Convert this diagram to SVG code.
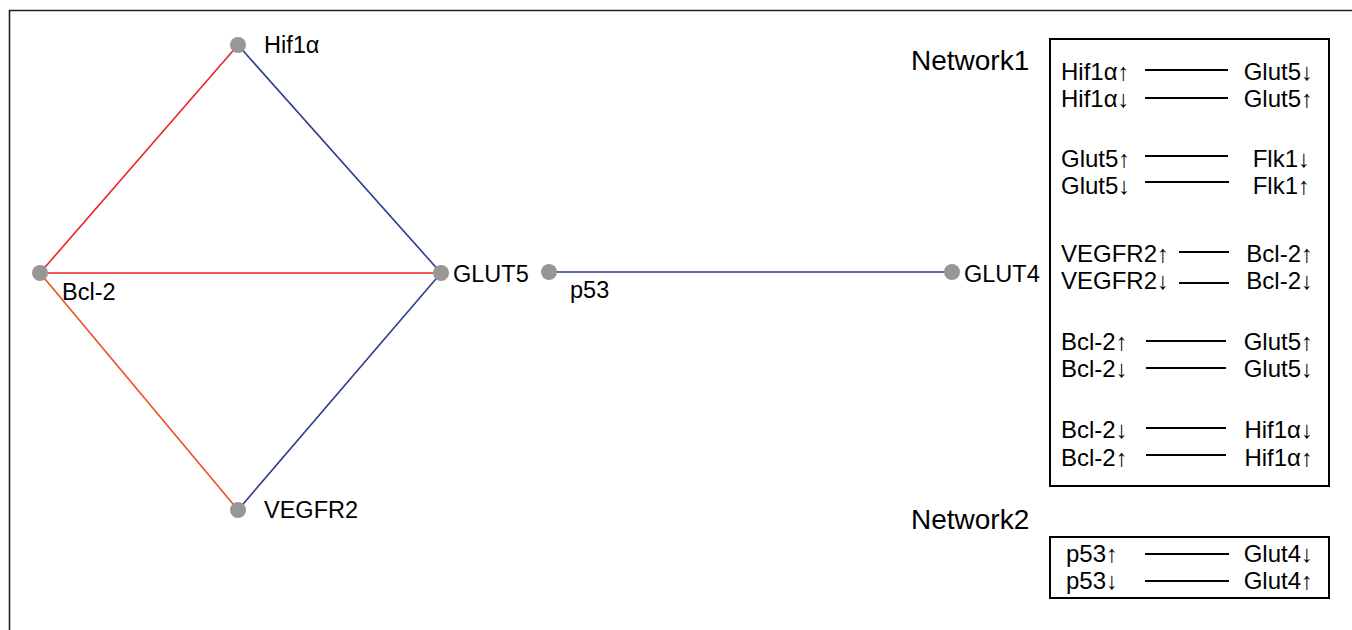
<svg xmlns="http://www.w3.org/2000/svg" width="1352" height="630" viewBox="0 0 1352 630">
<style>
text{font-family:"Liberation Sans",Arial,sans-serif;fill:#000}
.lbl{font-size:23.5px}
.net{font-size:28px}
.lg{font-size:24px}
.node{fill:#9b9696}
.e{stroke-width:1.6;fill:none}
.red{stroke:#ec2227}
.org{stroke:#f04e23}
.blue{stroke:#2b3c91}
.box{fill:none;stroke:#000;stroke-width:2}
.ll{stroke:#000;stroke-width:1.8}
.r{text-anchor:end}
</style>
<rect x="0" y="0" width="1352" height="630" fill="#fff"/>
<path d="M9.5,630 V10.5 H1352" fill="none" stroke="#231f20" stroke-width="1.6"/>
<g id="connectors">
<line class="e red" x1="238" y1="45" x2="40" y2="273"/>
<line class="e blue" x1="238" y1="45" x2="441" y2="273"/>
<line class="e red" x1="40" y1="273" x2="441" y2="273"/>
<line class="e org" x1="40" y1="273" x2="238" y2="510"/>
<line class="e blue" x1="238" y1="510" x2="441" y2="273"/>
<line class="e blue" x1="549" y1="272" x2="952" y2="272"/>
</g>
<g id="n-hif1a"><circle class="node" cx="238" cy="45" r="8"/><text class="lbl" x="264" y="53">Hif1α</text></g>
<g id="n-bcl2"><circle class="node" cx="40" cy="273" r="8"/><text class="lbl" x="62" y="300">Bcl-2</text></g>
<g id="n-glut5"><circle class="node" cx="441" cy="273" r="8"/><text class="lbl" x="453" y="282">GLUT5</text></g>
<g id="n-p53"><circle class="node" cx="549" cy="272" r="8"/><text class="lbl" x="570" y="298">p53</text></g>
<g id="n-glut4"><circle class="node" cx="952" cy="272" r="8"/><text class="lbl" x="964" y="282">GLUT4</text></g>
<g id="n-vegfr2"><circle class="node" cx="238" cy="510" r="8"/><text class="lbl" x="264" y="518">VEGFR2</text></g>
<g id="network1">
<text class="net" x="911" y="70">Network1</text>
<rect class="box" x="1050" y="39" width="279" height="447"/>
<text class="lg" x="1061" y="79.5">Hif1α↑</text><line class="ll" x1="1145" y1="70" x2="1228" y2="70"/><text class="lg r" x="1313" y="79.5">Glut5↓</text>
<text class="lg" x="1061" y="106.5">Hif1α↓</text><line class="ll" x1="1145" y1="98" x2="1228" y2="98"/><text class="lg r" x="1313" y="106.5">Glut5↑</text>
<text class="lg" x="1061" y="166.5">Glut5↑</text><line class="ll" x1="1145" y1="156" x2="1228" y2="156"/><text class="lg r" x="1310" y="166.5">Flk1↓</text>
<text class="lg" x="1061" y="193.5">Glut5↓</text><line class="ll" x1="1145" y1="182" x2="1229" y2="182"/><text class="lg r" x="1310" y="193.5">Flk1↑</text>
<text class="lg" x="1061" y="261.5">VEGFR2↑</text><line class="ll" x1="1179" y1="252" x2="1229" y2="252"/><text class="lg r" x="1313" y="261.5">Bcl-2↑</text>
<text class="lg" x="1061" y="288.5">VEGFR2↓</text><line class="ll" x1="1179" y1="283" x2="1229" y2="283"/><text class="lg r" x="1313" y="288.5">Bcl-2↓</text>
<text class="lg" x="1061" y="349.5">Bcl-2↑</text><line class="ll" x1="1146" y1="341" x2="1226" y2="341"/><text class="lg r" x="1313" y="349.5">Glut5↑</text>
<text class="lg" x="1061" y="376.5">Bcl-2↓</text><line class="ll" x1="1146" y1="368" x2="1226" y2="368"/><text class="lg r" x="1313" y="376.5">Glut5↓</text>
<text class="lg" x="1061" y="437.5">Bcl-2↓</text><line class="ll" x1="1146" y1="428" x2="1226" y2="428"/><text class="lg r" x="1313" y="437.5">Hif1α↓</text>
<text class="lg" x="1061" y="465.5">Bcl-2↑</text><line class="ll" x1="1146" y1="455" x2="1226" y2="455"/><text class="lg r" x="1313" y="465.5">Hif1α↑</text>
</g>
<g id="network2">
<text class="net" x="911" y="529">Network2</text>
<rect class="box" x="1050" y="537" width="279" height="61"/>
<text class="lg" x="1066" y="561.5">p53↑</text><line class="ll" x1="1145" y1="554" x2="1229" y2="554"/><text class="lg r" x="1313" y="561.5">Glut4↓</text>
<text class="lg" x="1066" y="588.5">p53↓</text><line class="ll" x1="1145" y1="581" x2="1229" y2="581"/><text class="lg r" x="1313" y="588.5">Glut4↑</text>
</g>
</svg>
